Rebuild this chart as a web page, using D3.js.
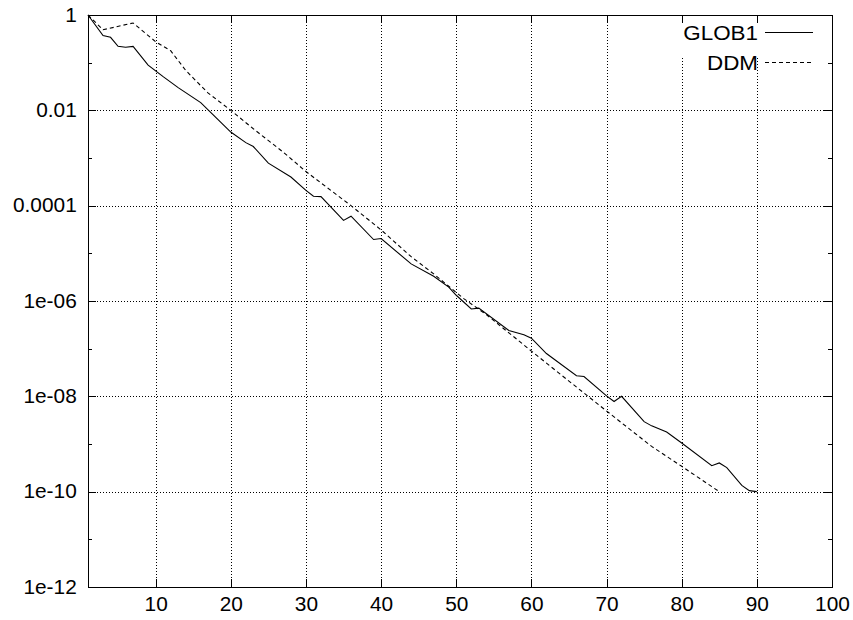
<!DOCTYPE html>
<html>
<head>
<meta charset="utf-8">
<script src="https://cdn.jsdelivr.net/npm/d3@7"></script>
<style>
  html, body { margin: 0; padding: 0; background: #fff; }
  svg { display: block; }
  text { font-family: "Liberation Sans", Arial, Helvetica, sans-serif; fill: #000; }
</style>
</head>
<body>
<svg id="chart" width="853" height="620"></svg>
<script>
// ---- data ----
const globX = [1, 3, 4, 5, 6, 7, 9, 11, 13, 16, 18, 20, 22, 23, 25, 28, 30, 31, 32, 35, 36, 39, 40, 44, 47, 49, 50, 52, 53, 57, 59, 60, 62, 66, 67, 70, 71, 72, 75, 76, 78, 80, 84, 85, 86, 88, 89, 90];
const globY = [1, 3.7e-1, 3.4e-1, 2.2e-1, 2.1e-1, 2.2e-1, 8.9e-2, 5.1e-2, 3.0e-2, 1.45e-2, 7.1e-3, 3.5e-3, 2.1e-3, 1.74e-3, 7.8e-4, 4.0e-4, 2.1e-4, 1.58e-4, 1.55e-4, 4.9e-5, 6.0e-5, 1.95e-5, 2.04e-5, 6.0e-6, 3.3e-6, 1.95e-6, 1.32e-6, 6.8e-7, 7.1e-7, 2.4e-7, 1.95e-7, 1.66e-7, 7.9e-8, 2.7e-8, 2.6e-8, 1.02e-8, 7.8e-9, 1.0e-8, 2.95e-9, 2.4e-9, 1.78e-9, 1.05e-9, 3.5e-10, 4.0e-10, 3.2e-10, 1.35e-10, 1.05e-10, 1e-10];
const ddmX = [1, 3, 7, 10, 12, 14, 16, 17, 20, 23, 27, 30, 36, 40, 44, 47, 51, 54, 60, 67, 71, 76, 80, 85];
const ddmY = [1, 4.9e-1, 6.8e-1, 2.75e-1, 1.78e-1, 6.9e-2, 3.3e-2, 2.3e-2, 1e-2, 4.1e-3, 1.32e-3, 5.2e-4, 1e-4, 3.1e-5, 8.5e-6, 3.7e-6, 1.12e-6, 5.2e-7, 8.9e-8, 1.17e-8, 3.7e-9, 8.9e-10, 3.4e-10, 1e-10];
const seriesNames = ["GLOB1", "DDM"];
const xTicks = [10, 20, 30, 40, 50, 60, 70, 80, 90, 100];
const yMajorTicks = [1, 1e-2, 1e-4, 1e-6, 1e-8, 1e-10, 1e-12];
const yMajorLabels = ["1", "0.01", "0.0001", "1e-06", "1e-08", "1e-10", "1e-12"];
const yMinorTicks = [1e-1, 1e-3, 1e-5, 1e-7, 1e-9, 1e-11];

// ---- layout ----
const L = 88, R = 832, T = 15, B = 587;
const W = R - L, H = B - T;
const FONT = 19.5, STRETCH = 1.07, LEG_STRETCH = 1.15;

const svg = d3.select("#chart");
const g = svg.append("g").attr("transform", `translate(${L},${T})`);

const x = d3.scaleLinear().domain([1, 100]).range([0, W]);
const y = d3.scaleLog().domain([1e-12, 1]).range([H, 0]);

// ---- grid (dotted) ----
const gridStyle = sel => {
  sel.select(".domain").remove();
  sel.selectAll("line").attr("stroke", "#000").attr("stroke-width", 1)
     .attr("stroke-dasharray", "1,2").attr("shape-rendering", "crispEdges");
  sel.selectAll("text").remove();
};
g.append("g").attr("transform", `translate(0,${H})`)
  .call(d3.axisBottom(x).tickValues(xTicks.filter(v => v < 100)).tickSize(-H).tickFormat(""))
  .call(gridStyle);
g.append("g")
  .call(d3.axisLeft(y).tickValues(yMajorTicks.filter(v => v < 1 && v > 1e-12)).tickSize(-W).tickFormat(""))
  .call(gridStyle);

// legend background clears grid
g.append("rect").attr("x", 675 - L).attr("y", 24 - T).attr("width", 150).attr("height", 34).attr("fill", "#fff");

// ---- curves ----
const line = d3.line().x(d => x(d[0])).y(d => y(d[1]));
const globData = globX.map((v, i) => [v, globY[i]]);
const ddmData = ddmX.map((v, i) => [v, ddmY[i]]);
g.append("path").datum(globData).attr("d", line).attr("fill", "none")
  .attr("stroke", "#000").attr("stroke-width", 1.1);
g.append("path").datum(ddmData).attr("d", line).attr("fill", "none")
  .attr("stroke", "#000").attr("stroke-width", 1.1).attr("stroke-dasharray", "4,3");

// ---- axes / ticks ----
const tickStyle = sel => {
  sel.select(".domain").remove();
  sel.selectAll("line").attr("stroke", "#000").attr("shape-rendering", "crispEdges");
  sel.selectAll("text").attr("font-size", FONT + "px")
     .attr("font-family", "Liberation Sans, Arial, sans-serif").attr("fill", "#000");
};
// bottom
const bottom = g.append("g").attr("transform", `translate(0,${H})`)
  .call(d3.axisBottom(x).tickValues(xTicks).tickSizeInner(-8).tickSizeOuter(0).tickPadding(10).tickFormat(d3.format("d")))
  .call(tickStyle);
bottom.selectAll("text").attr("transform", `scale(${STRETCH},1)`);
// top
g.append("g")
  .call(d3.axisTop(x).tickValues(xTicks).tickSizeInner(-8).tickSizeOuter(0).tickFormat(""))
  .call(tickStyle);
// left major
const left = g.append("g")
  .call(d3.axisLeft(y).tickValues(yMajorTicks).tickSizeInner(-8).tickSizeOuter(0).tickPadding(10.5)
    .tickFormat((d, i) => yMajorLabels[i]))
  .call(tickStyle);
left.selectAll("text").attr("transform", `scale(${STRETCH},1)`);
// left minor
g.append("g")
  .call(d3.axisLeft(y).tickValues(yMinorTicks).tickSizeInner(-4).tickSizeOuter(0).tickFormat(""))
  .call(tickStyle);
// right major & minor
g.append("g").attr("transform", `translate(${W},0)`)
  .call(d3.axisRight(y).tickValues(yMajorTicks).tickSizeInner(-8).tickSizeOuter(0).tickFormat(""))
  .call(tickStyle);
g.append("g").attr("transform", `translate(${W},0)`)
  .call(d3.axisRight(y).tickValues(yMinorTicks).tickSizeInner(-4).tickSizeOuter(0).tickFormat(""))
  .call(tickStyle);

// frame
g.append("rect").attr("x", 0.5).attr("y", 0.5).attr("width", W).attr("height", H)
  .attr("fill", "none").attr("stroke", "#000").attr("stroke-width", 1).attr("shape-rendering", "crispEdges");

// ---- legend ----
const legendRows = [
  { name: seriesNames[0], dash: null, y: 32.5 },
  { name: seriesNames[1], dash: "4,3", y: 62.5 }
];
const leg = svg.append("g");
legendRows.forEach(r => {
  leg.append("g").attr("transform", `translate(758,${r.y})`)
    .append("text").attr("transform", `scale(${LEG_STRETCH},1)`)
    .attr("text-anchor", "end").attr("dy", "0.36em")
    .attr("font-size", FONT + "px").text(r.name);
  leg.append("line").attr("x1", 765).attr("x2", 813).attr("y1", r.y).attr("y2", r.y)
    .attr("stroke", "#000").attr("stroke-width", 1.1)
    .attr("stroke-dasharray", r.dash);
});
</script>
</body>
</html>
